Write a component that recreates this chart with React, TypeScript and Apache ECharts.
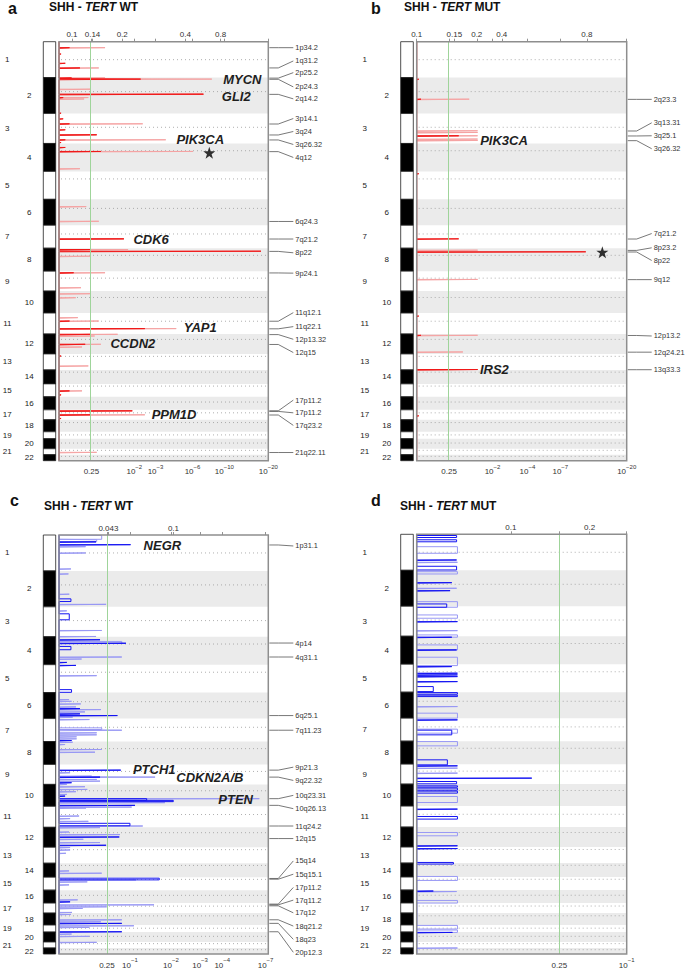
import React, { useEffect, useRef } from "react";
import * as echarts from "echarts";

const FONT = "'Liberation Sans', Arial, Helvetica, sans-serif";

// ---------------- genome ----------------
const CHROMOSOMES = ["1","2","3","4","5","6","7","8","9","10","11","12","13","14","15","16","17","18","19","20","21","22"];
// relative chromosome sizes as drawn (genome units)
const CHROM_LENGTHS = [36, 36, 30, 28, 28, 26, 23, 23, 20, 22, 21, 20, 16, 14, 13, 13, 10, 12, 7, 10, 6, 6];
const CENTROMERE_FRACTION = [0.5, 0.39, 0.46, 0.26, 0.27, 0.35, 0.38, 0.31, 0.35, 0.29, 0.39, 0.27, 0.15, 0.16, 0.17, 0.4, 0.3, 0.23, 0.45, 0.43, 0.27, 0.28];

// ---------------- titles ----------------
const PANEL_LETTERS = ["a", "b", "c", "d"];
const TITLE_SUBGROUP = "SHH - ";
const TITLE_GENE = "TERT";
const TITLE_STATUS = [" WT", " MUT", " WT", " MUT"];

type Seg = [number, number, number]; // [start, end, score]
type Tick = [number, string];

// ---------------- panel a : SHH TERT WT, amplifications ----------------
const A_TOP_TICKS: Tick[] = [[0.062, "0.1"], [0.16, "0.14"], [0.302, "0.2"], [0.604, "0.4"], [0.772, "0.8"]];
const A_BOTTOM_TICKS: Tick[] = [[0.155, "0.25"], [0.36, "10^-2"], [0.461, "10^-3"], [0.638, "10^-6"], [0.79, "10^-10"], [1.0, "10^-20"]];
const A_THRESHOLD = 0.155;
const A_GSCORE: Seg[] = [
  [6, 6.6, 0.22], [26.3, 26.9, 0.19], [36.3, 36.9, 0.22], [37.5, 38.1, 0.73], [47.6, 48.2, 0.15], [52.6, 53.2, 0.69],
  [56, 56.6, 0.14], [57.4, 58, 0.12], [82.3, 82.9, 0.4], [93.3, 93.9, 0.18], [98.3, 98.9, 0.51], [110, 110.6, 0.64],
  [127.3, 127.9, 0.1], [165.3, 165.9, 0.13], [180, 180.6, 0.19], [197.6, 198.2, 0.31], [208.3, 208.9, 0.33], [215, 215.6, 0.15],
  [231.6, 232.2, 0.22], [246.6, 247.2, 0.105], [252.6, 253.2, 0.15], [256.6, 257.2, 0.08], [276.6, 277.2, 0.09], [280, 280.6, 0.19],
  [287.6, 288.2, 0.56], [293.3, 293.9, 0.28], [295, 295.6, 0.17], [303.3, 303.9, 0.2], [306, 306.6, 0.11], [325, 325.6, 0.14],
  [350, 350.6, 0.11], [370, 370.6, 0.35], [374, 374.6, 0.41], [411.6, 412.2, 0.18],
];
const A_QVALUE: Seg[] = [
  [6, 6.6, 0.05], [12.3, 12.9, 0.01], [21.6, 22.2, 0.03], [26.3, 26.9, 0.1], [36.3, 36.9, 0.06], [37.5, 38.1, 0.39],
  [52.6, 53.2, 0.69], [56, 56.6, 0.02], [71.6, 72.2, 0.01], [77.3, 77.9, 0.02], [82.3, 82.9, 0.05], [88.3, 88.9, 0.03],
  [93.3, 93.9, 0.18], [98.3, 98.9, 0.03], [101, 101.6, 0.01], [106, 106.6, 0.03], [110, 110.6, 0.2], [197.6, 198.2, 0.31],
  [208.3, 208.9, 0.15], [210, 210.6, 0.965], [231.6, 232.2, 0.07], [280, 280.6, 0.05], [287.6, 288.2, 0.41], [293.3, 293.9, 0.15],
  [303.3, 303.9, 0.125], [315, 315.6, 0.01], [350, 350.6, 0.05], [354, 354.6, 0.01], [370, 370.6, 0.35], [374, 374.6, 0.15],
  [377.6, 378.2, 0.01],
];
const A_GENES: [string, number, number][] = [
  ["MYCN", 0.876, 37.6], ["GLI2", 0.847, 55], ["PIK3CA", 0.675, 98.3], ["CDK6", 0.44, 198.3],
  ["YAP1", 0.675, 286], ["CCDN2", 0.353, 302.6], ["PPM1D", 0.55, 374],
];
const A_STARS: [number, number][] = [[0.718, 111.3]];
const A_CYTOBANDS: [string, number, number][] = [
  ["1p34.2", 6, 6], ["1q31.2", 26.3, 19.3], ["2p25.2", 36.5, 31], ["2p24.3", 37.7, 45.3], ["2q14.2", 52.8, 57.3],
  ["3p14.1", 82.5, 77], ["3q24", 93.5, 90], ["3q26.32", 98.5, 103], ["4q12", 110.2, 116], ["6q24.3", 180.2, 180.2],
  ["7q21.2", 197.8, 197.8], ["8p22", 210.2, 211.6], ["9p24.1", 231.8, 232], ["11q12.1", 280.2, 271.6], ["11q22.1", 287.8, 285.6],
  ["12p13.32", 293.6, 298.3], ["12q15", 303.5, 311.6], ["17p11.2", 370, 359.3], ["17p11.2", 370.6, 372], ["17q23.2", 374.2, 384.6],
  ["21q22.11", 411.8, 411.8],
];

// ---------------- panel b : SHH TERT MUT, amplifications ----------------
const B_TOP_TICKS: Tick[] = [[0.0, "0.1"], [0.179, "0.15"], [0.286, "0.2"], [0.405, "0.4"], [0.81, "0.8"]];
const B_BOTTOM_TICKS: Tick[] = [[0.154, "0.25"], [0.361, "10^-2"], [0.527, "10^-4"], [0.684, "10^-7"], [1.0, "10^-20"]];
const B_THRESHOLD = 0.154;
const B_GSCORE: Seg[] = [
  [57.6, 58.2, 0.25], [89.3, 89.9, 0.29], [91, 91.6, 0.29], [94.3, 94.9, 0.29], [97.6, 98.2, 0.29], [99, 99.6, 0.29],
  [209, 209.6, 0.29], [238.3, 238.9, 0.29], [294.3, 294.9, 0.29], [311, 311.6, 0.22], [328.6, 329.2, 0.29],
];
const B_QVALUE: Seg[] = [
  [37.6, 38.2, 0.01], [57.6, 58.2, 0.02], [94.3, 94.9, 0.2], [132.3, 132.9, 0.01], [197.6, 198.2, 0.2], [210.6, 211.2, 0.805],
  [275, 275.6, 0.01], [294.3, 294.9, 0.02], [328.6, 329.2, 0.29], [375, 375.6, 0.01],
];
const B_GENES: [string, number, number][] = [["PIK3CA", 0.416, 99.3], ["IRS2", 0.37, 328.6]];
const B_STARS: [number, number][] = [[0.884, 211]];
const B_CYTOBANDS: [string, number, number][] = [
  ["2q23.3", 57.8, 57.8], ["3q13.31", 89.5, 81.3], ["3q25.1", 94.5, 94.3], ["3q26.32", 99.2, 107.3], ["7q21.2", 197.8, 192.3],
  ["8p23.2", 209.2, 206.6], ["8p22", 210.8, 219.3], ["9q12", 238.5, 238.5], ["12p13.2", 294.5, 295], ["12q24.21", 311.2, 311.2],
  ["13q33.3", 328.8, 328.8],
];

// ---------------- panel c : SHH TERT WT, deletions ----------------
const C_TOP_TICKS: Tick[] = [[0.236, "0.043"], [0.547, "0.1"]];
const C_BOTTOM_TICKS: Tick[] = [[0.229, "0.25"], [0.339, "10^-1"], [0.535, "10^-2"], [0.674, "10^-3"], [0.78, "10^-4"], [0.987, "10^-7"]];
const C_THRESHOLD = 0.225;
const C_GSCORE: Seg[] = [
  [0.5, 4.3, 0.204], [4.8, 6.7, 0.18], [11.7, 12.2, 0.127], [18, 18.5, 0.127], [34, 34.5, 0.057], [39, 39.5, 0.045],
  [59.3, 59.8, 0.049], [69.5, 70, 0.225], [76, 76.5, 0.037], [95.7, 96.2, 0.204], [101.7, 102.2, 0.177], [106.7, 108.5, 0.3],
  [122.3, 122.8, 0.3], [124.3, 124.8, 0.108], [141, 141.5, 0.18], [165, 165.5, 0.048], [166.7, 167.2, 0.06], [169.3, 169.8, 0.104],
  [172.3, 172.8, 0.081], [175, 175.5, 0.2], [177.3, 177.8, 0.124], [182.7, 183.2, 0.065], [185, 185.5, 0.145], [193.3, 195, 0.204],
  [195.7, 196.2, 0.3], [198.3, 198.8, 0.18], [200.3, 200.8, 0.18], [202.3, 202.8, 0.084], [204.3, 204.8, 0.084], [207.7, 208.2, 0.065],
  [210, 210.5, 0.029], [215, 215.5, 0.204], [217.7, 218.2, 0.172], [238.3, 238.8, 0.053], [241.7, 242.2, 0.156], [242.7, 243.2, 0.459],
  [245, 245.5, 0.18], [246.7, 247.2, 0.196], [250, 250.5, 0.037], [252.3, 252.8, 0.124], [255, 255.5, 0.135], [257.3, 257.8, 0.081],
  [260, 260.5, 0.037], [264.3, 264.8, 0.957], [266.7, 267.2, 0.546], [268.3, 268.8, 0.506], [272.7, 273.2, 0.347], [273.7, 274.2, 0.129],
  [281.7, 282.2, 0.096], [284.3, 284.8, 0.053], [287, 287.5, 0.14], [291.7, 292.2, 0.4], [293.3, 293.8, 0.196], [297.7, 298.2, 0.048],
  [300.3, 300.8, 0.291], [305, 305.5, 0.116], [308.3, 308.8, 0.196], [313.3, 313.8, 0.053], [315.7, 316.2, 0.053], [319, 319.5, 0.033],
  [336.7, 337.2, 0.048], [339, 339.5, 0.204], [345.7, 346.2, 0.368], [347.7, 348.2, 0.135], [350.7, 351.2, 0.048], [365.7, 366.2, 0.089],
  [370.7, 371.2, 0.454], [372.7, 373.2, 0.228], [374.3, 374.8, 0.113], [378.3, 378.8, 0.062], [380.3, 380.8, 0.057], [385.7, 386.2, 0.3],
  [387.7, 388.2, 0.2], [391.7, 392.2, 0.358], [393.3, 393.8, 0.145], [400, 400.5, 0.06], [402.3, 402.8, 0.145], [408.3, 408.8, 0.18],
];
const C_QVALUE: Seg[] = [
  [6.9, 7.4, 0.177], [9.7, 10.2, 0.342], [64, 66.7, 0.057], [79, 85, 0.049], [105, 105.5, 0.196], [108.5, 109, 0.32],
  [111.7, 115, 0.057], [127.7, 128.2, 0.037], [130.7, 131.2, 0.081], [155, 157.7, 0.06], [174, 174.5, 0.1], [179.3, 179.8, 0.1],
  [181, 181.5, 0.279], [206, 206.5, 0.06], [235.7, 236.2, 0.295], [242.7, 243.2, 0.196], [248.3, 248.8, 0.06], [261.7, 262.2, 0.029],
  [264.3, 266, 0.419], [266, 267.3, 0.546], [271, 271.5, 0.363], [289, 291.5, 0.339], [302.7, 303.2, 0.288], [311, 311.5, 0.225],
  [344, 345.7, 0.479], [367.7, 368.2, 0.053], [389.3, 389.8, 0.3], [397.7, 398.2, 0.3],
];
const C_GENES: [string, number, number][] = [["NEGR", 0.494, 11], ["PTCH1", 0.455, 235], ["CDKN2A/B", 0.721, 242.7], ["PTEN", 0.844, 265]];
const C_STARS: [number, number][] = [];
const C_CYTOBANDS: [string, number, number][] = [
  ["1p31.1", 10, 11], ["4p14", 108.3, 108.3], ["4q31.1", 122.3, 122.3], ["6q25.1", 181, 181], ["7q11.23", 195.7, 195.7],
  ["9p21.3", 235.7, 232.7], ["9q22.32", 242.7, 246], ["10q23.31", 264.3, 261], ["10q26.13", 271, 274.3], ["11q24.2", 291.7, 291.7],
  ["12q15", 304.3, 304.3], ["15q14", 344.3, 326.7], ["15q15.1", 345, 340], ["17p11.2", 370, 353.3], ["17q11.2", 370.7, 366],
  ["17q12", 371.7, 378.7], ["18q21.2", 385.7, 392], ["18q23", 389.3, 405.3], ["20p12.3", 397.7, 418.3],
];

// ---------------- panel d : SHH TERT MUT, deletions ----------------
const D_TOP_TICKS: Tick[] = [[0.448, "0.1"], [0.804, "0.2"], [0.823, "0.2"]];
const D_BOTTOM_TICKS: Tick[] = [[0.679, "0.25"], [1.0, "10^-1"]];
const D_THRESHOLD = 0.679;
const D_GSCORE: Seg[] = [
  [12.4, 19, 0.194], [28, 28.5, 0.194], [37.4, 39.7, 0.194], [54, 54.5, 0.19], [67.4, 73, 0.194], [80.7, 84, 0.194],
  [96.4, 96.9, 0.194], [100.7, 103, 0.194], [110.7, 115.7, 0.194], [123, 131.4, 0.194], [172.4, 172.9, 0.194], [179, 184, 0.194],
  [195, 199, 0.194], [207.4, 211.7, 0.194], [234, 234.5, 0.194], [239, 239.5, 0.194], [262.4, 268.4, 0.194], [298.4, 301.7, 0.194],
  [342.4, 346.4, 0.194], [357.5, 358, 0.19], [366.4, 369, 0.194], [391.4, 395, 0.194], [396, 398.4, 0.194], [414, 414.5, 0.194],
];
const D_QVALUE: Seg[] = [
  [1.2, 3.2, 0.19], [5.5, 7.5, 0.19], [25.7, 26.2, 0.19], [32, 35.7, 0.19], [48.4, 48.9, 0.167], [56.4, 56.9, 0.159],
  [69.7, 73, 0.143], [87.4, 87.9, 0.194], [103, 103.5, 0.167], [115.7, 116.2, 0.19], [132.4, 132.9, 0.167], [139, 139.5, 0.194],
  [140.7, 141.2, 0.194], [142.4, 142.9, 0.194], [147.4, 147.9, 0.194], [152.4, 157.4, 0.079], [158.4, 160, 0.194], [161, 162.4, 0.194],
  [185.7, 186.2, 0.194], [196, 200.7, 0.167], [225.7, 230.7, 0.146], [231.7, 232.2, 0.194], [244, 244.5, 0.548], [247.4, 249.7, 0.19],
  [251.7, 253, 0.194], [254, 256, 0.194], [257, 259, 0.194], [275, 275.5, 0.194], [282.4, 285, 0.194], [311.7, 312.2, 0.194],
  [314.5, 315, 0.194], [328.4, 330, 0.175], [357, 357.5, 0.079], [398.4, 398.9, 0.17],
];
const D_GENES: [string, number, number][] = [];
const D_STARS: [number, number][] = [];
const D_CYTOBANDS: [string, number, number][] = [];

// ---------------- layout & style (not data) ----------------
const LAYOUTS = [
  { left: 59, top: 41.7, width: 209.3, height: 419, ideoLeft: 43.3, ideoWidth: 12.4, letterLeft: 8, letterTop: 0, titleLeft: 49, titleTop: 1 },
  { left: 416.7, top: 41.7, width: 210, height: 419, ideoLeft: 400.7, ideoWidth: 12.6, letterLeft: 371, letterTop: 0, titleLeft: 404, titleTop: 1 },
  { left: 59, top: 535, width: 209.3, height: 419, ideoLeft: 43.3, ideoWidth: 12.4, letterLeft: 10, letterTop: 492, titleLeft: 44, titleTop: 500 },
  { left: 416.7, top: 534.3, width: 210, height: 419.7, ideoLeft: 400.7, ideoWidth: 12.6, letterLeft: 371, letterTop: 492, titleLeft: 400, titleTop: 500 },
];
const RED = { pale: "#f5a3a3", dark: "#f01818" };
const BLUE = { pale: "#9898f4", dark: "#1414f2" };

const PANELS = [
  { top: A_TOP_TICKS, bottom: A_BOTTOM_TICKS, thr: A_THRESHOLD, g: A_GSCORE, q: A_QVALUE, genes: A_GENES, stars: A_STARS, bands: A_CYTOBANDS, color: RED },
  { top: B_TOP_TICKS, bottom: B_BOTTOM_TICKS, thr: B_THRESHOLD, g: B_GSCORE, q: B_QVALUE, genes: B_GENES, stars: B_STARS, bands: B_CYTOBANDS, color: RED },
  { top: C_TOP_TICKS, bottom: C_BOTTOM_TICKS, thr: C_THRESHOLD, g: C_GSCORE, q: C_QVALUE, genes: C_GENES, stars: C_STARS, bands: C_CYTOBANDS, color: BLUE },
  { top: D_TOP_TICKS, bottom: D_BOTTOM_TICKS, thr: D_THRESHOLD, g: D_GSCORE, q: D_QVALUE, genes: D_GENES, stars: D_STARS, bands: D_CYTOBANDS, color: BLUE },
];

const GENOME_LENGTH = CHROM_LENGTHS.reduce((s, v) => s + v, 0);
const CHROM_ROWS = CHROM_LENGTHS.map((len, i) => {
  const start = CHROM_LENGTHS.slice(0, i).reduce((s, v) => s + v, 0);
  return [start, start + len, i, start + CENTROMERE_FRACTION[i] * len];
});

const STAR_PATH =
  "path://M50,0 L61.8,35.3 L98.9,35.3 L68.9,57.1 L80.3,92.7 L50,70.9 L19.7,92.7 L31.1,57.1 L1.1,35.3 L38.2,35.3 Z";

function stepLine(segs: Seg[]): number[][] {
  const sorted = [...segs].sort((p, q) => p[0] - q[0]);
  const pts: number[][] = [[0, 0]];
  sorted.forEach(([y1, y2, v]) => {
    pts.push([0, y1], [v, y1], [v, y2], [0, y2]);
  });
  pts.push([0, GENOME_LENGTH]);
  return pts;
}

function fmtTick(label: string): string {
  if (label.includes("^")) {
    const [base, exp] = label.split("^");
    return `{b|${base}}{s|${exp.replace("-", "\u2212")}}`;
  }
  return `{b|${label}}`;
}

function xAxisFor(gridIndex: number, position: "top" | "bottom", ticks: Tick[]) {
  const values = ticks.map((t) => t[0]);
  return {
    gridIndex,
    type: "value",
    min: 0,
    max: 1,
    position,
    axisLine: { show: false },
    splitLine: { show: false },
    axisTick: {
      show: true,
      inside: position === "bottom",
      length: 3,
      customValues: values,
      lineStyle: { color: "#777", width: 0.8 },
    },
    axisLabel: {
      show: true,
      customValues: values,
      showMinLabel: true,
      showMaxLabel: true,
      hideOverlap: false,
      margin: 3,
      formatter: (v: number) => {
        const t = ticks.find((k) => Math.abs(k[0] - v) < 1e-6);
        return t ? fmtTick(t[1]) : "";
      },
      rich: {
        b: { fontSize: 8, fontFamily: FONT, color: "#333", lineHeight: 12, verticalAlign: "bottom" },
        s: { fontSize: 6, fontFamily: FONT, color: "#333", lineHeight: 7, verticalAlign: "top" },
      },
    },
  };
}

function buildOption() {
  const grid: any[] = [];
  const xAxis: any[] = [];
  const yAxis: any[] = [];
  const series: any[] = [];
  const title: any[] = [];

  PANELS.forEach((p, i) => {
    const L = LAYOUTS[i];
    const gm = grid.length;
    grid.push({ left: L.left, top: L.top, width: L.width, height: L.height, show: false });
    const gi = grid.length;
    grid.push({ left: L.ideoLeft, top: L.top, width: L.ideoWidth, height: L.height, show: false });

    const xb = xAxis.length;
    xAxis.push(xAxisFor(gm, "bottom", p.bottom));
    xAxis.push(xAxisFor(gm, "top", p.top));
    const xi = xAxis.length;
    xAxis.push({ gridIndex: gi, type: "value", min: 0, max: 1, show: false });

    const ym = yAxis.length;
    yAxis.push({ gridIndex: gm, type: "value", min: 0, max: GENOME_LENGTH, inverse: true, show: false });
    const yi = yAxis.length;
    yAxis.push({ gridIndex: gi, type: "value", min: 0, max: GENOME_LENGTH, inverse: true, show: false });

    title.push({
      text: PANEL_LETTERS[i],
      left: L.letterLeft,
      top: L.letterTop,
      padding: 0,
      textStyle: { fontSize: 16, fontWeight: "bold", color: "#111", fontFamily: FONT },
    });
    title.push({
      text: `{n|${TITLE_SUBGROUP}}{i|${TITLE_GENE}}{n|${TITLE_STATUS[i]}}`,
      left: L.titleLeft,
      top: L.titleTop,
      padding: 0,
      textStyle: {
        rich: {
          n: { fontSize: 12, fontWeight: "bold", color: "#111", fontFamily: FONT },
          i: { fontSize: 12, fontWeight: "bold", fontStyle: "italic", color: "#111", fontFamily: FONT },
        },
      },
    });

    // chromosome shading & centromere dotted lines
    series.push({
      type: "custom",
      xAxisIndex: xb,
      yAxisIndex: ym,
      silent: true,
      z: 1,
      clip: false,
      data: CHROM_ROWS,
      renderItem: (params: any, api: any) => {
        const s = api.value(0), e = api.value(1), idx = api.value(2), c = api.value(3);
        const a = api.coord([0, s]);
        const b = api.coord([1, e]);
        const cy = api.coord([0, c])[1];
        const children: any[] = [];
        if (idx % 2 === 1) {
          children.push({
            type: "rect",
            shape: { x: a[0], y: a[1], width: b[0] - a[0], height: b[1] - a[1] },
            style: { fill: "#ebebeb", stroke: "none" },
          });
        }
        children.push({
          type: "line",
          shape: { x1: a[0] + 2, y1: cy, x2: b[0] - 2, y2: cy },
          style: { stroke: "#9a9a9a", lineWidth: 0.8, lineDash: [1, 3], fill: "none" },
        });
        return { type: "group", children };
      },
    });

    // G-score profile (pale) with threshold line
    series.push({
      type: "line",
      xAxisIndex: xb,
      yAxisIndex: ym,
      data: stepLine(p.g),
      showSymbol: false,
      symbol: "none",
      silent: true,
      z: 3,
      lineStyle: { color: p.color.pale, width: 1 },
      markLine: {
        silent: true,
        symbol: ["none", "none"],
        label: { show: false },
        lineStyle: { color: "#9fd49a", width: 1, type: "solid" },
        data: [{ xAxis: p.thr }],
      },
    });

    // q-value profile (dark)
    series.push({
      type: "line",
      xAxisIndex: xb,
      yAxisIndex: ym,
      data: stepLine(p.q),
      showSymbol: false,
      symbol: "none",
      silent: true,
      z: 4,
      lineStyle: { color: p.color.dark, width: 1 },
    });

    // frame
    series.push({
      type: "custom",
      xAxisIndex: xb,
      yAxisIndex: ym,
      silent: true,
      z: 10,
      clip: false,
      data: [[0, 0]],
      renderItem: (params: any) => {
        const cs = params.coordSys;
        return {
          type: "rect",
          shape: { x: cs.x, y: cs.y, width: cs.width, height: cs.height },
          style: { fill: "none", stroke: "#8e8e8e", lineWidth: 1.5 },
        };
      },
    });

    // gene labels
    if (p.genes.length) {
      const names = p.genes.map((g) => g[0]);
      series.push({
        type: "custom",
        xAxisIndex: xb,
        yAxisIndex: ym,
        silent: true,
        z: 8,
        clip: false,
        data: p.genes.map((g) => [g[1], g[2]]),
        renderItem: (params: any, api: any) => {
          const pt = api.coord([api.value(0), api.value(1)]);
          return {
            type: "text",
            style: {
              text: names[params.dataIndex],
              x: pt[0],
              y: pt[1],
              align: "center",
              verticalAlign: "middle",
              fontSize: 13,
              fontWeight: "bold",
              fontStyle: "italic",
              fontFamily: FONT,
              fill: "#1e1e1e",
            },
          };
        },
      });
    }

    // stars
    if (p.stars.length) {
      series.push({
        type: "scatter",
        xAxisIndex: xb,
        yAxisIndex: ym,
        silent: true,
        z: 8,
        symbol: STAR_PATH,
        symbolSize: 12,
        itemStyle: { color: "#000" },
        data: p.stars,
      });
    }

    // cytoband labels with leader lines
    if (p.bands.length) {
      const names = p.bands.map((b) => b[0]);
      series.push({
        type: "custom",
        xAxisIndex: xb,
        yAxisIndex: ym,
        silent: true,
        z: 8,
        clip: false,
        data: p.bands.map((b) => [b[1], b[2]]),
        renderItem: (params: any, api: any) => {
          const peak = api.coord([1, api.value(0)]);
          const lab = api.coord([1, api.value(1)]);
          const xr = peak[0] + 1;
          return {
            type: "group",
            children: [
              {
                type: "polyline",
                shape: { points: [[xr, peak[1]], [xr + 9, peak[1]], [xr + 24, lab[1]]] },
                style: { stroke: "#555", lineWidth: 0.8, fill: "none" },
              },
              {
                type: "text",
                style: {
                  text: names[params.dataIndex],
                  x: xr + 26,
                  y: lab[1],
                  align: "left",
                  verticalAlign: "middle",
                  fontSize: 7.4,
                  fontFamily: FONT,
                  fill: "#333",
                },
              },
            ],
          };
        },
      });
    }

    // ideogram with chromosome numbers
    series.push({
      type: "custom",
      xAxisIndex: xi,
      yAxisIndex: yi,
      silent: true,
      z: 5,
      clip: false,
      data: CHROM_ROWS,
      renderItem: (params: any, api: any) => {
        const s = api.value(0), e = api.value(1), idx = api.value(2);
        const a = api.coord([0, s]);
        const b = api.coord([1, e]);
        const mid = api.coord([0, (s + e) / 2]);
        const even = idx % 2 === 1;
        return {
          type: "group",
          children: [
            {
              type: "rect",
              shape: { x: a[0], y: a[1], width: b[0] - a[0], height: b[1] - a[1] },
              style: { fill: even ? "#000" : "#fff", stroke: "#222", lineWidth: 0.8 },
            },
            {
              type: "text",
              style: {
                text: CHROMOSOMES[idx],
                x: mid[0] - (even ? 14 : 36),
                y: mid[1],
                align: "center",
                verticalAlign: "middle",
                fontSize: 8,
                fontFamily: FONT,
                fill: "#222",
              },
            },
          ],
        };
      },
    });
  });

  return {
    animation: false,
    backgroundColor: "#fff",
    textStyle: { fontFamily: FONT },
    title,
    grid,
    xAxis,
    yAxis,
    series,
  };
}

export default function App() {
  const ref = useRef<HTMLDivElement>(null);
  useEffect(() => {
    document.body.style.margin = "0";
    const chart = echarts.init(ref.current as HTMLDivElement, undefined, { renderer: "svg" });
    chart.setOption(buildOption() as any);
    return () => chart.dispose();
  }, []);
  return <div ref={ref} style={{ width: 685, height: 969, background: "#fff" }} />;
}
